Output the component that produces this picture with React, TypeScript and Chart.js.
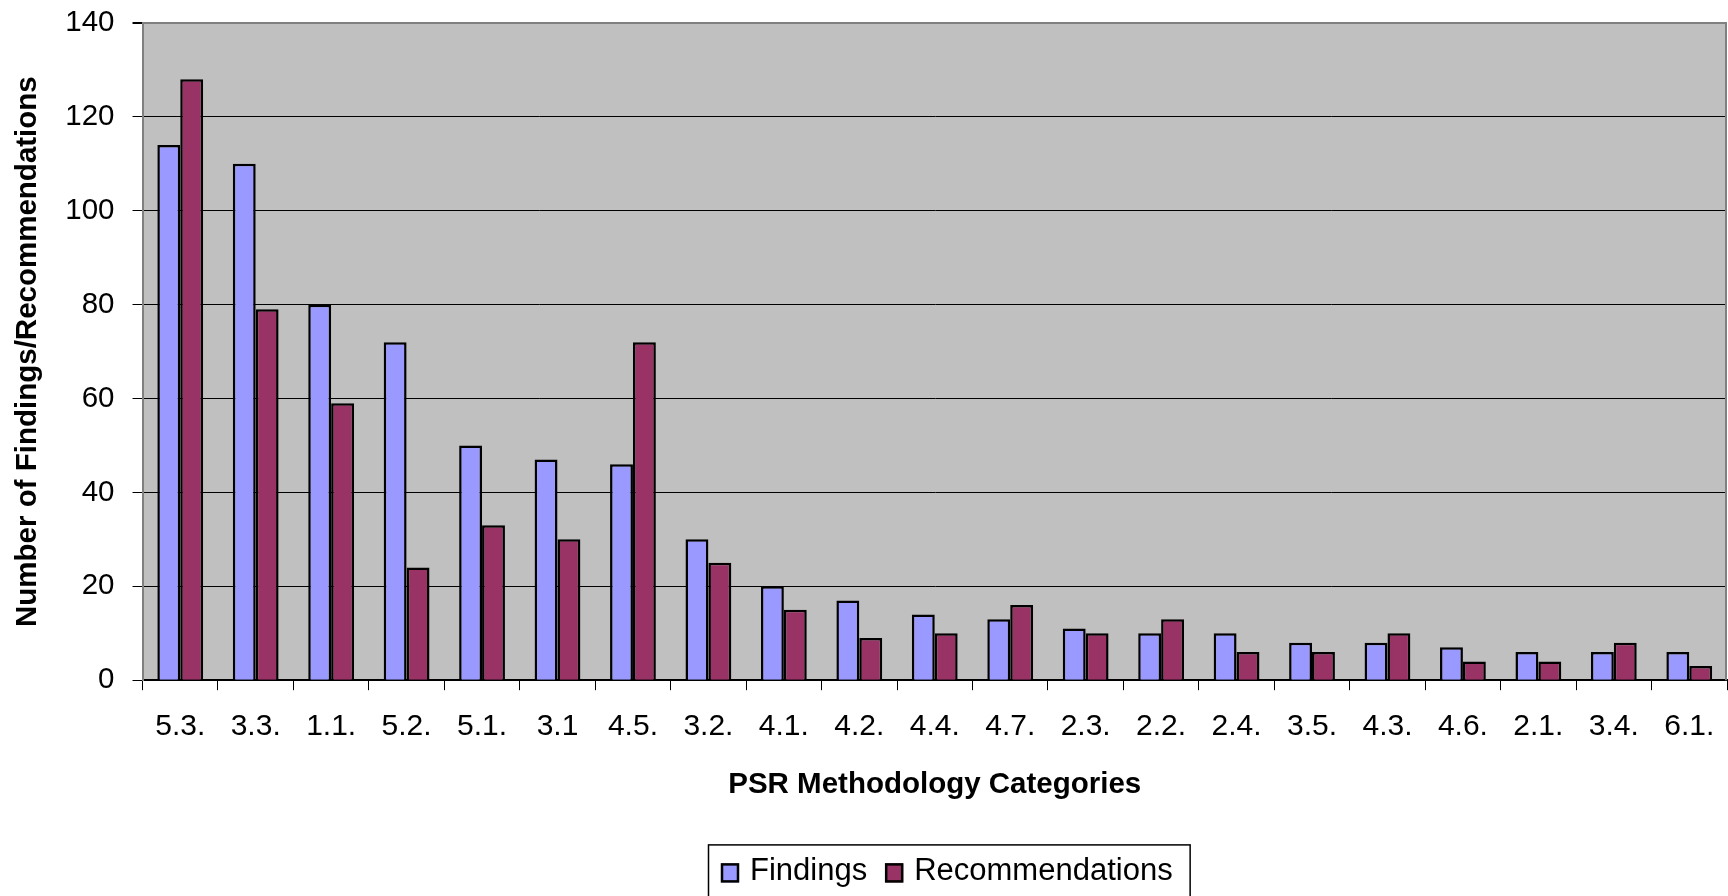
import React, { useEffect, useRef } from "react";
import { Chart, registerables } from "chart.js";

Chart.register(...registerables);

// PSR methodology categories, sorted by number of findings
const categories = [
  "5.3.", "3.3.", "1.1.", "5.2.", "5.1.", "3.1", "4.5.", "3.2.", "4.1.", "4.2.", "4.4.",
  "4.7.", "2.3.", "2.2.", "2.4.", "3.5.", "4.3.", "4.6.", "2.1.", "3.4.", "6.1.",
];
const findings = [114, 110, 80, 72, 50, 47, 46, 30, 20, 17, 14, 13, 11, 10, 10, 8, 8, 7, 6, 6, 6];
const recommendations = [128, 79, 59, 24, 33, 30, 72, 25, 15, 9, 10, 16, 10, 13, 6, 6, 10, 4, 4, 8, 3];

const yMin = 0;
const yMax = 140;
const yStep = 20;

const FONT = '"Liberation Sans", Arial, sans-serif';

// Silver plot area with a grey frame on the top and right
const plotFrame = {
  id: "plotFrame",
  beforeDraw(chart: any) {
    const { ctx, chartArea: a } = chart;
    ctx.save();
    ctx.fillStyle = "#C0C0C0";
    ctx.fillRect(a.left, a.top, a.right - a.left, a.bottom - a.top);
    ctx.restore();
  },
  beforeDatasetsDraw(chart: any) {
    const { ctx, chartArea: a } = chart;
    ctx.save();
    ctx.strokeStyle = "#808080";
    ctx.lineWidth = 2;
    ctx.beginPath();
    ctx.moveTo(a.left, a.top);
    ctx.lineTo(a.right - 1, a.top);
    ctx.lineTo(a.right - 1, a.bottom);
    ctx.stroke();
    ctx.restore();
  },
};

// Boxed legend under the axis title
const boxedLegend = {
  id: "boxedLegend",
  afterDraw(chart: any) {
    const { ctx, chartArea: a } = chart;
    ctx.save();
    ctx.font = `31px ${FONT}`;
    const items = chart.data.datasets.map((ds: any) => ({
      label: ds.label as string,
      fill: ds.backgroundColor as string,
      w: ctx.measureText(ds.label).width,
    }));
    const boxW = 18, boxH = 19, gap = 11, itemGap = 18, padL = 13, padR = 17;
    const total =
      padL + padR +
      items.reduce((s: number, it: any) => s + boxW + gap + it.w, 0) +
      itemGap * (items.length - 1);
    const cx = (a.left + a.right) / 2 + 14;
    const left = Math.round(cx - total / 2);
    const top = chart.scales.x.bottom + 42;

    ctx.strokeStyle = "#000";
    ctx.lineWidth = 1.5;
    ctx.strokeRect(left + 0.5, top + 0.5, total, 60);

    let x = left + padL;
    ctx.textBaseline = "alphabetic";
    ctx.textAlign = "left";
    for (const it of items) {
      ctx.fillStyle = it.fill;
      ctx.fillRect(x, top + 19, boxW, boxH);
      ctx.lineWidth = 2.5;
      ctx.strokeStyle = "#000";
      ctx.strokeRect(x + 1, top + 20, boxW - 2, boxH - 2);
      ctx.fillStyle = "#000";
      ctx.fillText(it.label, x + boxW + gap, top + 36);
      x += boxW + gap + it.w + itemGap;
    }
    ctx.restore();
  },
};

export default function App() {
  const canvasRef = useRef<HTMLCanvasElement | null>(null);

  useEffect(() => {
    if (!canvasRef.current) return;
    const chart = new Chart(canvasRef.current, {
      type: "bar",
      data: {
        labels: categories,
        datasets: [
          {
            label: "Findings",
            data: findings,
            backgroundColor: "#9999FF",
            borderColor: "#000",
            borderWidth: 2.5,
            categoryPercentage: 0.607,
            barPercentage: 1.0,
          },
          {
            label: "Recommendations",
            data: recommendations,
            backgroundColor: "#993366",
            borderColor: "#000",
            borderWidth: 2.5,
            categoryPercentage: 0.607,
            barPercentage: 1.0,
          },
        ],
      },
      options: {
        animation: false,
        responsive: true,
        maintainAspectRatio: false,
        layout: { padding: { top: 23, right: 1, bottom: 93.6, left: 0 } },
        plugins: {
          legend: { display: false },
          tooltip: { enabled: false },
        },
        scales: {
          x: {
            afterFit(scale: any) {
              scale.paddingLeft = 0;
              scale.paddingRight = 0;
            },
            grid: {
              drawOnChartArea: false,
              drawTicks: true,
              tickLength: 10,
              tickColor: "#000",
              offset: true,
            },
            border: { display: true, color: "#000", width: 2 },
            ticks: {
              color: "#000",
              padding: 19,
              maxRotation: 0,
              autoSkip: false,
              font: { family: FONT, size: 30 },
            },
            title: {
              display: true,
              text: "PSR Methodology Categories",
              color: "#000",
              font: { family: FONT, size: 29.5, weight: "bold" },
              padding: { top: 2.8, bottom: 0 },
            },
          },
          y: {
            min: yMin,
            max: yMax,
            afterFit(scale: any) {
              scale.paddingTop = 0;
              scale.paddingBottom = 0;
            },
            grid: {
              color: (c: any) => (c.tick && c.tick.value === yMax ? "#808080" : "#000"),
              lineWidth: (c: any) => (c.tick && c.tick.value === yMax ? 2 : 1),
              tickLength: 10,
              tickColor: "#000",
            },
            border: { display: true, color: "#808080", width: 2 },
            ticks: {
              stepSize: yStep,
              color: "#000",
              padding: 18,
              font: { family: FONT, size: 29.5 },
            },
            title: {
              display: true,
              text: "Number of Findings/Recommendations",
              color: "#000",
              font: { family: FONT, size: 29.5, weight: "bold" },
              padding: { top: 10, bottom: 1.9 },
            },
          },
        },
      },
      plugins: [plotFrame, boxedLegend],
    });
    return () => chart.destroy();
  }, []);

  return (
    <div style={{ position: "fixed", left: 0, top: 0, width: 1728, height: 896, background: "#fff" }}>
      <canvas ref={canvasRef} />
    </div>
  );
}
